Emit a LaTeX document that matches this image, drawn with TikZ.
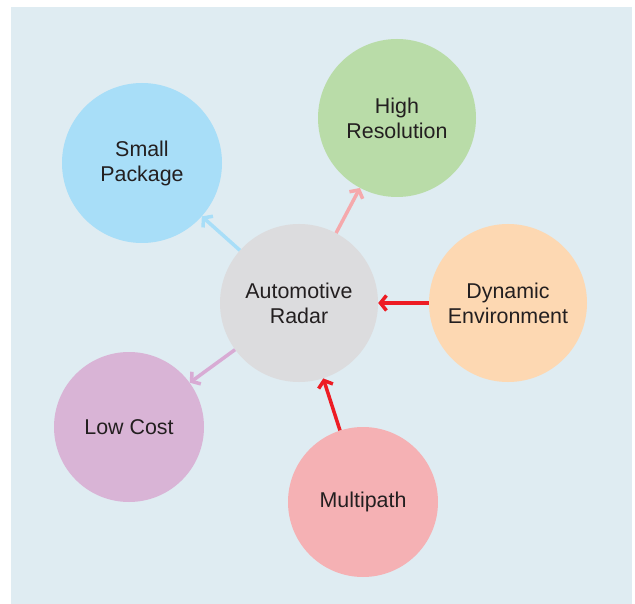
\documentclass[tikz,border=0pt]{standalone}
\usepackage{fontspec}
\setmainfont{Liberation Sans}
\usetikzlibrary{arrows.meta}

\definecolor{panelbg}{HTML}{DFECF2}
\definecolor{hubgray}{HTML}{DCDCDE}
\definecolor{skyblue}{HTML}{A8DEF8}
\definecolor{leafgreen}{HTML}{B9DCA8}
\definecolor{peach}{HTML}{FDD8B2}
\definecolor{lilac}{HTML}{D9B4D6}
\definecolor{rosepink}{HTML}{F5B1B4}
\definecolor{arrowpink}{HTML}{F5A9AC}
\definecolor{arrowlilac}{HTML}{D8ABD4}
\definecolor{alertred}{HTML}{ED1C24}
\definecolor{inkgray}{HTML}{231F20}

\tikzset{
  bubble/.style={circle, inner sep=0pt, draw=none, text=inkgray,
    align=center, font=\fontsize{21.4}{25}\selectfont},
  link/.style={line width=3.5pt,
    -{Straight Barb[length=6pt,width=15pt,line width=3.5pt]}},
}

\begin{document}
\begin{tikzpicture}[x=1pt,y=-1pt]
  \useasboundingbox (0,0) rectangle (635,604);
  \fill[panelbg] (11,7) rectangle (632,604);

  \node[bubble, fill=hubgray, minimum size=158pt] (hub) at (299,303) {Automotive\\Radar};
  \node[bubble, fill=skyblue, minimum size=160pt] (pkg) at (142,163) {Small\\Package};
  \node[bubble, fill=leafgreen, minimum size=158pt] (res) at (397,118) {High\\Resolution};
  \node[bubble, fill=peach, minimum size=158pt] (dyn) at (508,303) {Dynamic\\Environment};
  \node[bubble, fill=lilac, minimum size=150pt] (cost) at (129,427) {Low Cost};
  \node[bubble, fill=rosepink, minimum size=150pt] (mp) at (363,502) {Multipath};

  \draw[link, skyblue] (hub) -- (pkg);
  \draw[link, arrowpink] (hub) -- (res);
  \draw[link, arrowlilac] (hub) -- (cost);
  \draw[link, alertred] (dyn) -- (hub);
  \draw[link, alertred] (mp) -- (hub);
\end{tikzpicture}
\end{document}
